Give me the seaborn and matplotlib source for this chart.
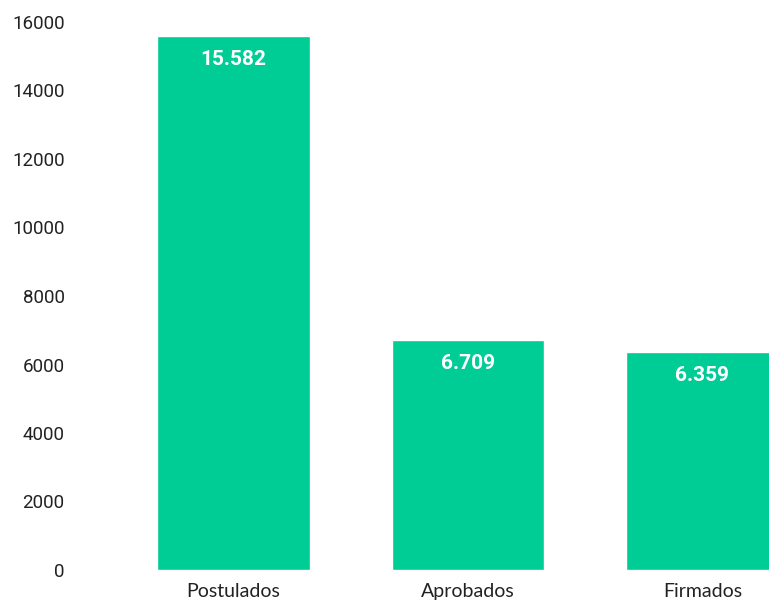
import matplotlib
matplotlib.use("Agg")
import matplotlib.pyplot as plt
import seaborn as sns
import pandas as pd

# data
categories = ["Postulados", "Aprobados", "Firmados"]
values = [15582, 6709, 6359]
yticks = [0, 2000, 4000, 6000, 8000, 10000, 12000, 14000, 16000]

BAR_COLOR = "#00CC96"

df = pd.DataFrame({"Estado": categories, "Cantidad": values})

sns.set_theme(style="white")
plt.rcParams["font.family"] = ["Roboto", "DejaVu Sans"]

fig = plt.figure(figsize=(7.69, 6.01), dpi=100)
ax = fig.add_axes([75 / 769, 31 / 601, 694 / 769, 548 / 601])

sns.barplot(data=df, x="Estado", y="Cantidad", color=BAR_COLOR,
            saturation=1, width=0.652, ax=ax)

# value labels inside the top of each bar
for i, v in enumerate(values):
    ax.annotate(f"{v:,}".replace(",", "."), xy=(i, v), xytext=(0, -16.5),
                textcoords="offset points", ha="center", va="center",
                color="white", fontsize=15, fontweight="bold")

ax.set_ylim(0, 16000)
ax.set_xlim(-0.676, 2.284)
ax.set_yticks(yticks)
ax.set_yticklabels([str(t) for t in yticks], fontsize=13.5, color="#222222")
ax.set_xticks(range(len(categories)))
ax.set_xticklabels(categories, fontsize=14, color="#222222", family=["Lato", "DejaVu Sans"])
ax.tick_params(axis="y", length=0, pad=7.5)
ax.tick_params(axis="x", length=0, pad=9.5)
ax.set_xlabel("")
ax.set_ylabel("")
sns.despine(ax=ax, left=True, bottom=True)

fig.savefig("out.png", dpi=100)
